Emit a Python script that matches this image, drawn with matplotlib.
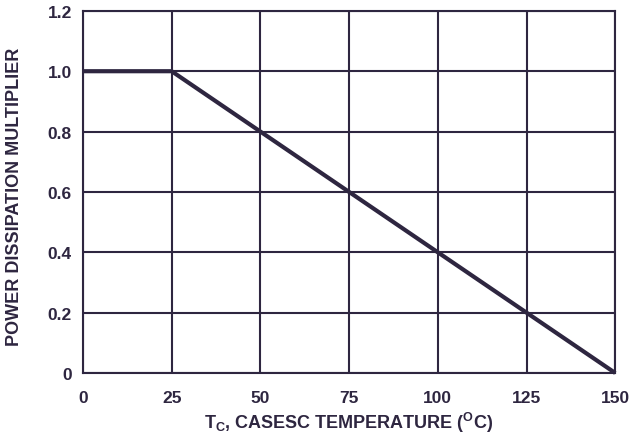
import matplotlib
matplotlib.use("Agg")
import matplotlib.pyplot as plt

temps = [0, 25, 150]
multiplier = [1.0, 1.0, 0.0]
x_ticks = [0, 25, 50, 75, 100, 125, 150]
y_ticks = [0, 0.2, 0.4, 0.6, 0.8, 1.0, 1.2]
y_tick_labels = ["0", "0.2", "0.4", "0.6", "0.8", "1.0", "1.2"]

C = "#2e2640"
plt.rcParams['font.family'] = ['Liberation Sans', 'DejaVu Sans']
plt.rcParams['font.weight'] = 'bold'
plt.rcParams['mathtext.fontset'] = 'custom'
plt.rcParams['mathtext.rm'] = 'Liberation Sans:bold'
plt.rcParams['mathtext.bf'] = 'Liberation Sans:bold'
plt.rcParams['mathtext.it'] = 'Liberation Sans:bold'

fig = plt.figure(figsize=(6.33, 4.39), dpi=100)
ax = fig.add_axes([0.131, 0.148, 0.841, 0.825])
ax.plot(temps, multiplier, color=C, lw=3.0, solid_capstyle='butt', zorder=3, clip_on=False)
ax.set_xlim(0, 150)
ax.set_ylim(0, 1.2)
ax.set_xticks(x_ticks)
ax.set_yticks(y_ticks)
ax.set_yticklabels(y_tick_labels)
ax.grid(True, color=C, lw=1.5)
ax.set_axisbelow(True)
for s in ax.spines.values():
    s.set_color(C)
    s.set_linewidth(1.5)
ax.tick_params(length=0, labelsize=12.5, colors=C)
ax.tick_params(axis='x', pad=12)
ax.tick_params(axis='y', pad=8)
for lab in ax.get_xticklabels() + ax.get_yticklabels():
    lab.set_fontweight('bold')
ax.set_xlabel(r'T$_\mathrm{C}$, CASESC TEMPERATURE ($^\mathrm{O}$C)', fontsize=13,
              fontweight='bold', color=C)
ax.set_ylabel('POWER DISSIPATION MULTIPLIER', fontsize=13, fontweight='bold', color=C)
ax.xaxis.set_label_coords(0.5, -0.103)
ax.yaxis.set_label_coords(-0.113, 0.49)
fig.savefig("out.png", dpi=100)
